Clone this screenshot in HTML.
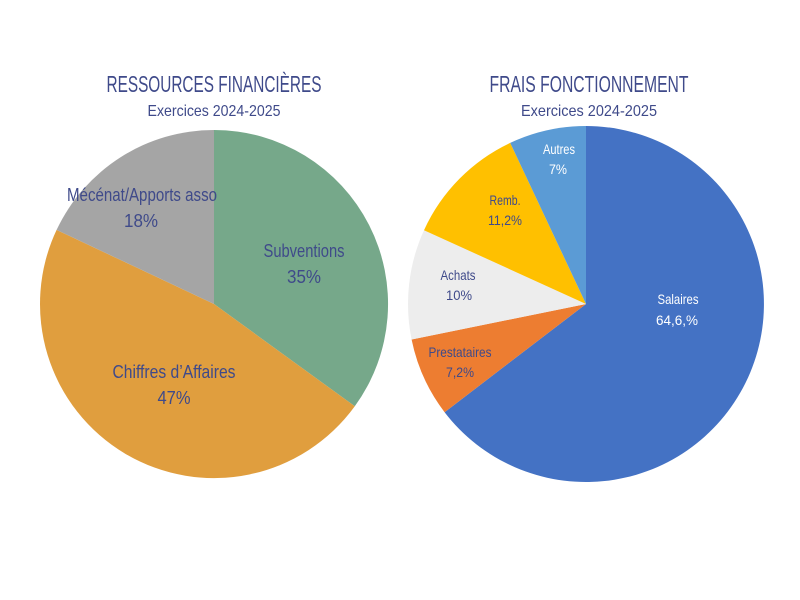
<!DOCTYPE html>
<html><head><meta charset="utf-8"><style>
html,body{margin:0;padding:0;background:#fff;}
svg{display:block;}
text{font-family:"Liberation Sans Narrow","Liberation Sans",sans-serif;text-anchor:middle;fill:#3F4A8A;}
</style></head><body>
<svg width="800" height="600" viewBox="0 0 800 600">
<rect width="800" height="600" fill="#fff"/>
<path d="M214,304 L214,130 A174,174 0 0 1 354.8,406.3 Z" fill="#76A88A"/>
<path d="M214,304 L354.8,406.3 A174,174 0 0 1 56.6,229.9 Z" fill="#E09E3E"/>
<path d="M214,304 L56.6,229.9 A174,174 0 0 1 214,130 Z" fill="#A5A5A5"/>
<path d="M586,304 L586,126 A178,178 0 1 1 444.6,412.2 Z" fill="#4472C4"/>
<path d="M586,304 L444.6,412.2 A178,178 0 0 1 411.6,339.5 Z" fill="#ED7D31"/>
<path d="M586,304 L411.6,339.5 A178,178 0 0 1 424.0,230.2 Z" fill="#EDEDED"/>
<path d="M586,304 L424.0,230.2 A178,178 0 0 1 510.2,142.9 Z" fill="#FFC000"/>
<path d="M586,304 L510.2,142.9 A178,178 0 0 1 586,126 Z" fill="#5B9BD5"/>
<g lengthAdjust="spacingAndGlyphs">
<text x="214" y="92" font-size="23" textLength="215" lengthAdjust="spacingAndGlyphs">RESSOURCES FINANCIÈRES</text>
<text x="214" y="116" font-size="16" textLength="133" lengthAdjust="spacingAndGlyphs">Exercices 2024-2025</text>
<text x="589" y="92" font-size="23" textLength="199" lengthAdjust="spacingAndGlyphs">FRAIS FONCTIONNEMENT</text>
<text x="589" y="116" font-size="16" textLength="136" lengthAdjust="spacingAndGlyphs">Exercices 2024-2025</text>
<text x="304" y="257" font-size="18" textLength="81" lengthAdjust="spacingAndGlyphs">Subventions</text>
<text x="304" y="283" font-size="18" textLength="34" lengthAdjust="spacingAndGlyphs">35%</text>
<text x="174" y="378" font-size="18" textLength="123" lengthAdjust="spacingAndGlyphs">Chiffres d’Affaires</text>
<text x="174" y="404" font-size="18" textLength="33" lengthAdjust="spacingAndGlyphs">47%</text>
<text x="142" y="201" font-size="18" textLength="150" lengthAdjust="spacingAndGlyphs">Mécénat/Apports asso</text>
<text x="141" y="227" font-size="18" textLength="34" lengthAdjust="spacingAndGlyphs">18%</text>
<text x="678" y="304" font-size="14" style="fill:#fff" textLength="41" lengthAdjust="spacingAndGlyphs">Salaires</text>
<text x="677" y="325" font-size="14" style="fill:#fff" textLength="42" lengthAdjust="spacingAndGlyphs">64,6,%</text>
<text x="460" y="357" font-size="14" textLength="63" lengthAdjust="spacingAndGlyphs">Prestataires</text>
<text x="460" y="377" font-size="14" textLength="28" lengthAdjust="spacingAndGlyphs">7,2%</text>
<text x="458" y="280" font-size="14" textLength="35" lengthAdjust="spacingAndGlyphs">Achats</text>
<text x="459" y="300" font-size="14" textLength="26" lengthAdjust="spacingAndGlyphs">10%</text>
<text x="505" y="205" font-size="14" textLength="31" lengthAdjust="spacingAndGlyphs">Remb.</text>
<text x="505" y="225" font-size="14" textLength="34" lengthAdjust="spacingAndGlyphs">11,2%</text>
<text x="559" y="154" font-size="14" style="fill:#fff" textLength="32" lengthAdjust="spacingAndGlyphs">Autres</text>
<text x="558" y="174" font-size="14" style="fill:#fff" textLength="18" lengthAdjust="spacingAndGlyphs">7%</text>
</g>
</svg>
</body></html>
